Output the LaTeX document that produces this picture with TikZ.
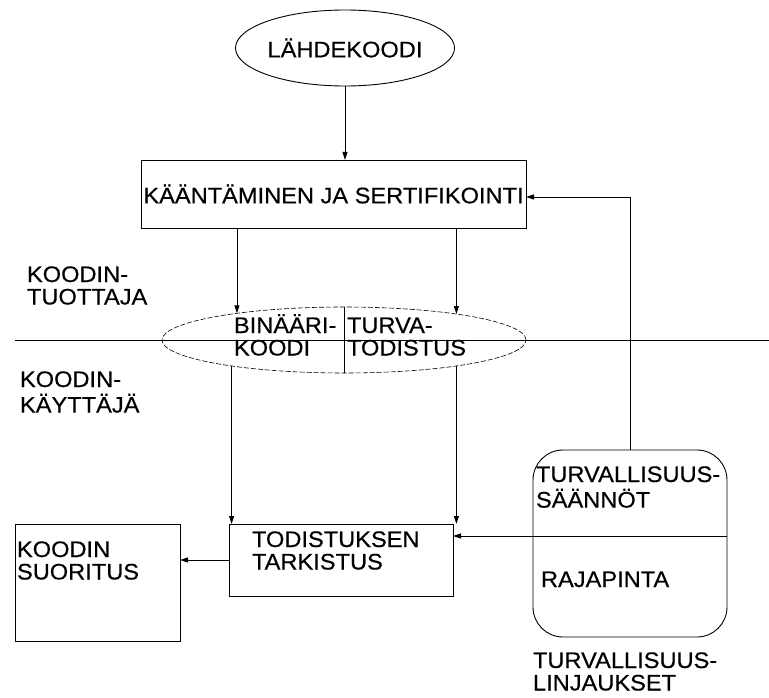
\documentclass[tikz,border=0pt]{standalone}
\usepackage{fontspec}
\setmainfont{Liberation Sans}[FakeStretch=1.05,FakeBold=0.4]
\usetikzlibrary{shapes.geometric,arrows.meta}
\newcommand{\mlines}[1]{\begin{tabular}[t]{@{}l@{}}#1\end{tabular}}
\begin{document}
\begin{tikzpicture}[x=1pt,y=-1pt,
  font=\fontsize{22.5pt}{22.5pt}\selectfont,
  every path/.style={line width=0.9pt},
  arr/.style={-{Triangle[length=8pt,width=5pt]}},
  boxnode/.style={draw,rectangle,inner sep=0pt,outer sep=0pt},
  txt/.style={inner sep=0pt,outer sep=0pt,anchor=base west}]
\useasboundingbox (0,0) rectangle (769,698);
\fill[white] (0,0) rectangle (769,698);

% nodes
\node[draw,ellipse,inner sep=0pt,outer sep=0pt,minimum width=218pt,minimum height=76pt] (src) at (345,48) {LÄHDEKOODI};
\node[boxnode,minimum width=385pt,minimum height=68pt] (comp) at (333.5,194) {KÄÄNTÄMINEN JA SERTIFIKOINTI};
\node[draw,ellipse,inner sep=0pt,outer sep=0pt,minimum width=364pt,minimum height=66pt,dash pattern=on 5pt off 2pt,line width=0.6pt] (bin) at (344,340) {};
\node[boxnode,minimum width=224pt,minimum height=72pt] (chk) at (341,560) {};
\node[boxnode,minimum width=165pt,minimum height=117pt] (run) at (97.5,582.5) {};
\node[draw,rectangle,rounded corners=30pt,inner sep=0pt,outer sep=0pt,minimum width=194pt,minimum height=187pt] (pol) at (630,543.5) {};

% texts
\node[txt] (tuot) at (27,282) {\mlines{KOODIN-\\TUOTTAJA}};
\node[txt] (kayt) at (20,387) {\mlines{KOODIN-\\KÄYTTÄJÄ}};
\node[txt] (bink) at (234,333) {\mlines{BINÄÄRI-\\KOODI}};
\node[txt] (turv) at (347,333) {\mlines{TURVA-\\TODISTUS}};
\node[txt] (tark) at (252,547) {\mlines{TODISTUKSEN\\TARKISTUS}};
\node[txt] (suor) at (17,557) {\mlines{KOODIN\\SUORITUS}};
\node[txt] (saan) at (536,482) {\mlines{TURVALLISUUS-\\SÄÄNNÖT}};
\node[txt] (raja) at (541,587) {RAJAPINTA};
\node[txt] (linj) at (533,668) {\mlines{TURVALLISUUS-\\LINJAUKSET}};

% lines
\coordinate (hl) at (15,340);
\coordinate (hr) at (769,340);
\draw (hl) -- (hr);
\draw (bin.north) -- (bin.south);
\coordinate (pr) at (727,536);

% connectors
\draw[arr] (src.south) -- (src.south |- comp.north);
\draw[arr] (comp.south -| bin.166.8) -- (bin.166.8);
\draw[arr] (comp.south -| bin.13.2) -- (bin.13.2);
\draw[arr] (bin.193.2) -- (chk.north -| bin.193.2);
\draw[arr] (bin.-13.5) -- (chk.north -| bin.-13.5);
\draw[arr] (chk.west) -- (run.east |- chk.west);
\draw[arr] (pol.north) |- ([yshift=-3pt]comp.east);
\draw[arr] (pr) -- (chk.east |- pr);
\end{tikzpicture}
\end{document}
